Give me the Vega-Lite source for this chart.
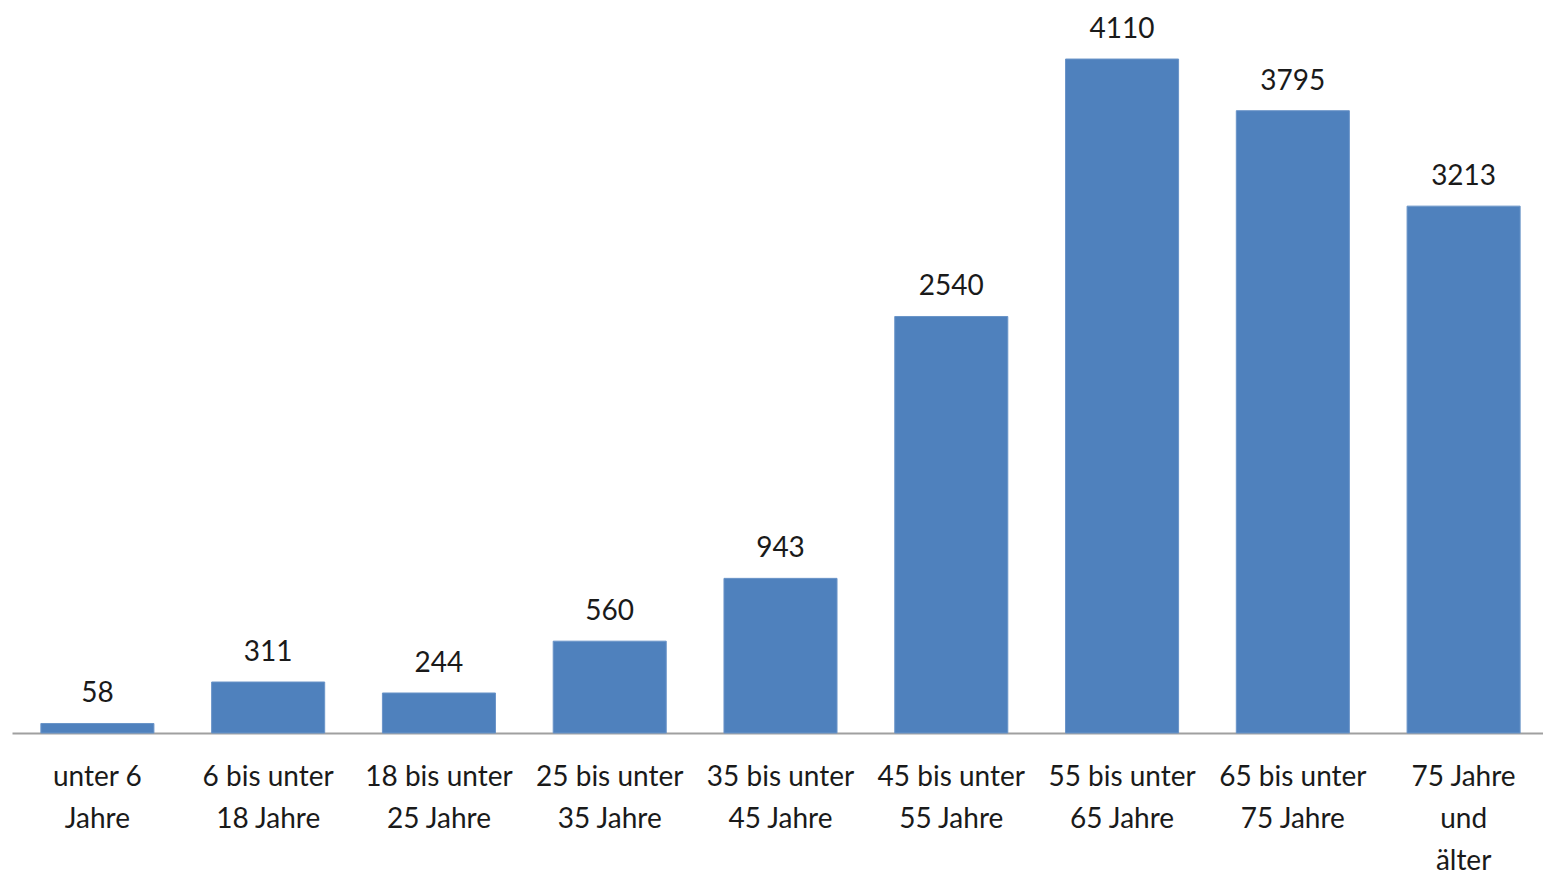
{
  "$schema": "https://vega.github.io/schema/vega-lite/v6.json",
  "width": 1537,
  "height": 733,
  "padding": {"left": 12, "top": 0, "right": 0, "bottom": 0},
  "autosize": {"type": "pad"},
  "background": "white",
  "config": {"view": {"stroke": null}, "font": "Lato"},
  "data": {
    "values": [
      {"gruppe": "unter 6|Jahre", "anzahl": 58},
      {"gruppe": "6 bis unter|18 Jahre", "anzahl": 311},
      {"gruppe": "18 bis unter|25 Jahre", "anzahl": 244},
      {"gruppe": "25 bis unter|35 Jahre", "anzahl": 560},
      {"gruppe": "35 bis unter|45 Jahre", "anzahl": 943},
      {"gruppe": "45 bis unter|55 Jahre", "anzahl": 2540},
      {"gruppe": "55 bis unter|65 Jahre", "anzahl": 4110},
      {"gruppe": "65 bis unter|75 Jahre", "anzahl": 3795},
      {"gruppe": "75 Jahre|und|älter", "anzahl": 3213}
    ]
  },
  "encoding": {
    "x": {
      "field": "gruppe",
      "type": "nominal",
      "sort": null,
      "scale": {"paddingInner": 0.338, "paddingOuter": 0.169},
      "axis": {
        "title": null,
        "labelAngle": 0,
        "labelExpr": "split(datum.value, '|')",
        "labelFontSize": 28,
        "labelLineHeight": 42,
        "labelColor": "#1a1a1a",
        "labelPadding": 30,
        "labelBaseline": "top",
        "labelLimit": 0,
        "labelOverlap": false,
        "ticks": false,
        "grid": false,
        "domainColor": "#a0a0a0",
        "domainWidth": 2
      }
    },
    "y": {
      "field": "anzahl",
      "type": "quantitative",
      "scale": {"domain": [0, 4470], "nice": false, "zero": true},
      "axis": null
    }
  },
  "layer": [
    {"mark": {"type": "bar", "color": "#4f81bd", "stroke": "#6a94c8", "strokeWidth": 1}},
    {
      "mark": {"type": "text", "baseline": "alphabetic", "dy": -21, "fontSize": 28, "color": "#1a1a1a"},
      "encoding": {"text": {"field": "anzahl", "type": "quantitative", "format": "d"}}
    }
  ]
}
